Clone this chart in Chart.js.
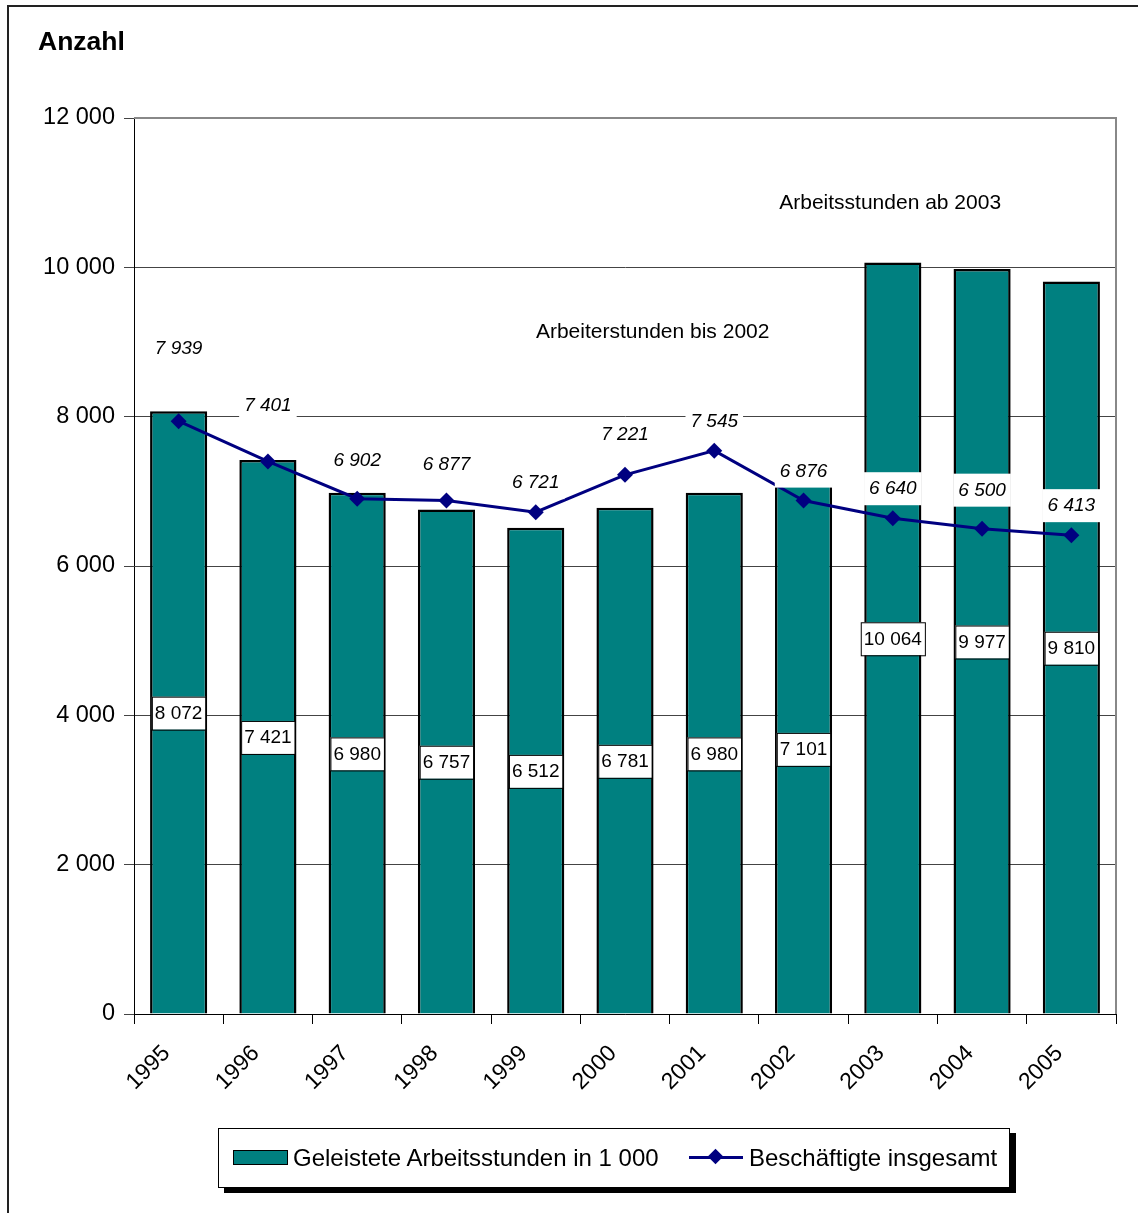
<!DOCTYPE html>
<html>
<head>
<meta charset="utf-8">
<script src="https://cdn.jsdelivr.net/npm/chart.js@4.4.0/dist/chart.umd.min.js"></script>
<style>
  html, body { margin: 0; padding: 0; background: #fff; overflow: hidden; }
  body { width: 1138px; height: 1213px; position: relative; font-family: "Liberation Sans", Arial, sans-serif; }
  .frame { position: absolute; left: 7px; top: 5px; width: 1300px; height: 1400px; border-left: 2px solid #222; border-top: 2px solid #222; }
  #Chart { position: absolute; left: 0; top: 0; }
  .title { position: absolute; left: 38px; top: 26px; font-weight: bold; font-size: 26.5px; color: #000; }
  .legend { position: absolute; left: 218px; top: 1128px; width: 790px; height: 58px; border: 1px solid #000; background: #fff; box-shadow: 6px 5px 0 #000; font-size: 24px; }
  .legend .sw { position: absolute; left: 14px; top: 21px; width: 53px; height: 13px; background: #008080; border: 1px solid #000; }
  .legend .t1 { position: absolute; left: 74px; top: 15px; }
  .legend .ln { position: absolute; left: 470px; top: 27px; width: 54px; height: 3px; background: #000080; }
  .legend .dm { position: absolute; left: 491px; top: 22px; width: 11px; height: 11px; background: #000080; transform: rotate(45deg); }
  .legend .t2 { position: absolute; left: 530px; top: 15px; }
</style>
</head>
<body>
<div class="frame"></div>
<canvas id="Chart" width="1138" height="1213"></canvas>
<div class="title">Anzahl</div>
<div class="legend">
  <div class="sw"></div><div class="t1">Geleistete Arbeitsstunden in 1 000</div>
  <div class="ln"></div><div class="dm"></div><div class="t2">Beschäftigte insgesamt</div>
</div>
<script>
// values
let years = ['1995', '1996', '1997', '1998', '1999', '2000', '2001', '2002', '2003', '2004', '2005'];
let hours = [8072, 7421, 6980, 6757, 6512, 6781, 6980, 7101, 10064, 9977, 9810];
let employed = [7939, 7401, 6902, 6877, 6721, 7221, 7545, 6876, 6640, 6500, 6413];
let yTicks = [0, 2000, 4000, 6000, 8000, 10000, 12000];

function fmt(v) {
  return String(v).replace(/\B(?=(\d{3})+(?!\d))/g, ' ');
}

const FONT = '"Liberation Sans", Arial, sans-serif';
// how far each line label sits above its point
const lineLabelLift = [74, 57, 39, 37, 30, 41, 30, 30, 30, 39, 30];

const labelsPlugin = {
  id: 'labels',
  beforeDatasetsDraw(chart) {
    const ctx = chart.ctx, a = chart.chartArea;
    ctx.save();
    ctx.strokeStyle = '#888';
    ctx.lineWidth = 2;
    ctx.beginPath();
    ctx.moveTo(a.left, a.top);
    ctx.lineTo(a.right, a.top);
    ctx.lineTo(a.right, a.bottom);
    ctx.stroke();
    ctx.restore();
  },
  afterDatasetsDraw(chart) {
    const ctx = chart.ctx;
    const xs = chart.scales.x, ys = chart.scales.y;
    const cw = (chart.chartArea.right - chart.chartArea.left) / years.length;
    ctx.save();
    ctx.textAlign = 'center';
    ctx.textBaseline = 'middle';

    // bar values in bordered boxes, half way up the bar
    ctx.font = '19px ' + FONT;
    hours.forEach(function(v, i) {
      const x = xs.getPixelForValue(i);
      const y = ys.getPixelForValue(v / 2);
      const t = fmt(v);
      const w = ctx.measureText(t).width + 6;
      ctx.fillStyle = '#fff';
      ctx.fillRect(x - w / 2, y - 16, w, 33);
      ctx.strokeStyle = '#000';
      ctx.lineWidth = 1;
      ctx.strokeRect(x - w / 2 + 0.5, y - 16 + 0.5, w, 33);
      ctx.fillStyle = '#000';
      ctx.fillText(t, x, y + 1);
    });

    // employed values, italic, white backed
    ctx.font = 'italic 19px ' + FONT;
    employed.forEach(function(v, i) {
      const x = xs.getPixelForValue(i);
      const y = ys.getPixelForValue(v) - lineLabelLift[i];
      const t = fmt(v);
      const w = ctx.measureText(t).width + 10;
      ctx.fillStyle = '#fff';
      ctx.fillRect(x - w / 2, y - 16, w, 33);
      ctx.fillStyle = '#000';
      ctx.fillText(t, x, y + 1);
    });

    // notes
    ctx.font = '21px ' + FONT;
    ctx.fillStyle = '#000';
    ctx.fillText('Arbeiterstunden bis 2002', xs.getPixelForValue(5) + 0.31 * cw, ys.getPixelForValue(9130));
    ctx.fillText('Arbeitsstunden ab 2003', xs.getPixelForValue(8) - 0.03 * cw, ys.getPixelForValue(10860));
    ctx.restore();
  }
};

const ctx = document.getElementById('Chart');
const myChart = new Chart(ctx, {
  type: 'bar',
  data: {
    labels: years,
    datasets: [{
      type: 'line',
      label: 'Beschäftigte insgesamt',
      data: employed,
      borderColor: '#000080',
      backgroundColor: '#000080',
      borderWidth: 3,
      pointStyle: 'rectRot',
      pointRadius: 8,
      pointHoverRadius: 8,
      pointBorderWidth: 0,
      fill: false,
      tension: 0,
      order: 0
    }, {
      label: 'Geleistete Arbeitsstunden in 1 000',
      data: hours,
      backgroundColor: '#008080',
      borderColor: '#000',
      borderWidth: 2.5,
      barPercentage: 0.64,
      categoryPercentage: 1,
      order: 1
    }]
  },
  options: {
    responsive: false,
    animation: false,
    devicePixelRatio: 1,
    layout: { padding: { left: 0, right: 22, top: 118, bottom: 0 } },
    plugins: { legend: { display: false }, tooltip: { enabled: false } },
    scales: {
      x: {
        afterFit(scale) { scale.height = 199; },
        grid: { display: true, drawOnChartArea: false, drawTicks: true, tickLength: 10, color: '#000', offset: true },
        border: { display: true, color: '#000', width: 1 },
        ticks: { minRotation: 45, maxRotation: 45, color: '#000', padding: 16, labelOffset: -12, font: { family: FONT, size: 23 } }
      },
      y: {
        min: 0,
        max: 12000,
        afterFit(scale) { scale.width = 134; },
        afterBuildTicks(scale) { scale.ticks = yTicks.map(function(v) { return { value: v }; }); },
        grid: { color: '#444', lineWidth: 1, tickLength: 10 },
        border: { display: true, color: '#000', width: 1 },
        ticks: {
          color: '#000',
          padding: 9,
          font: { family: FONT, size: 23.5 },
          callback: function(v) { return fmt(v); }
        }
      }
    }
  },
  plugins: [labelsPlugin]
});
</script>
</body>
</html>
